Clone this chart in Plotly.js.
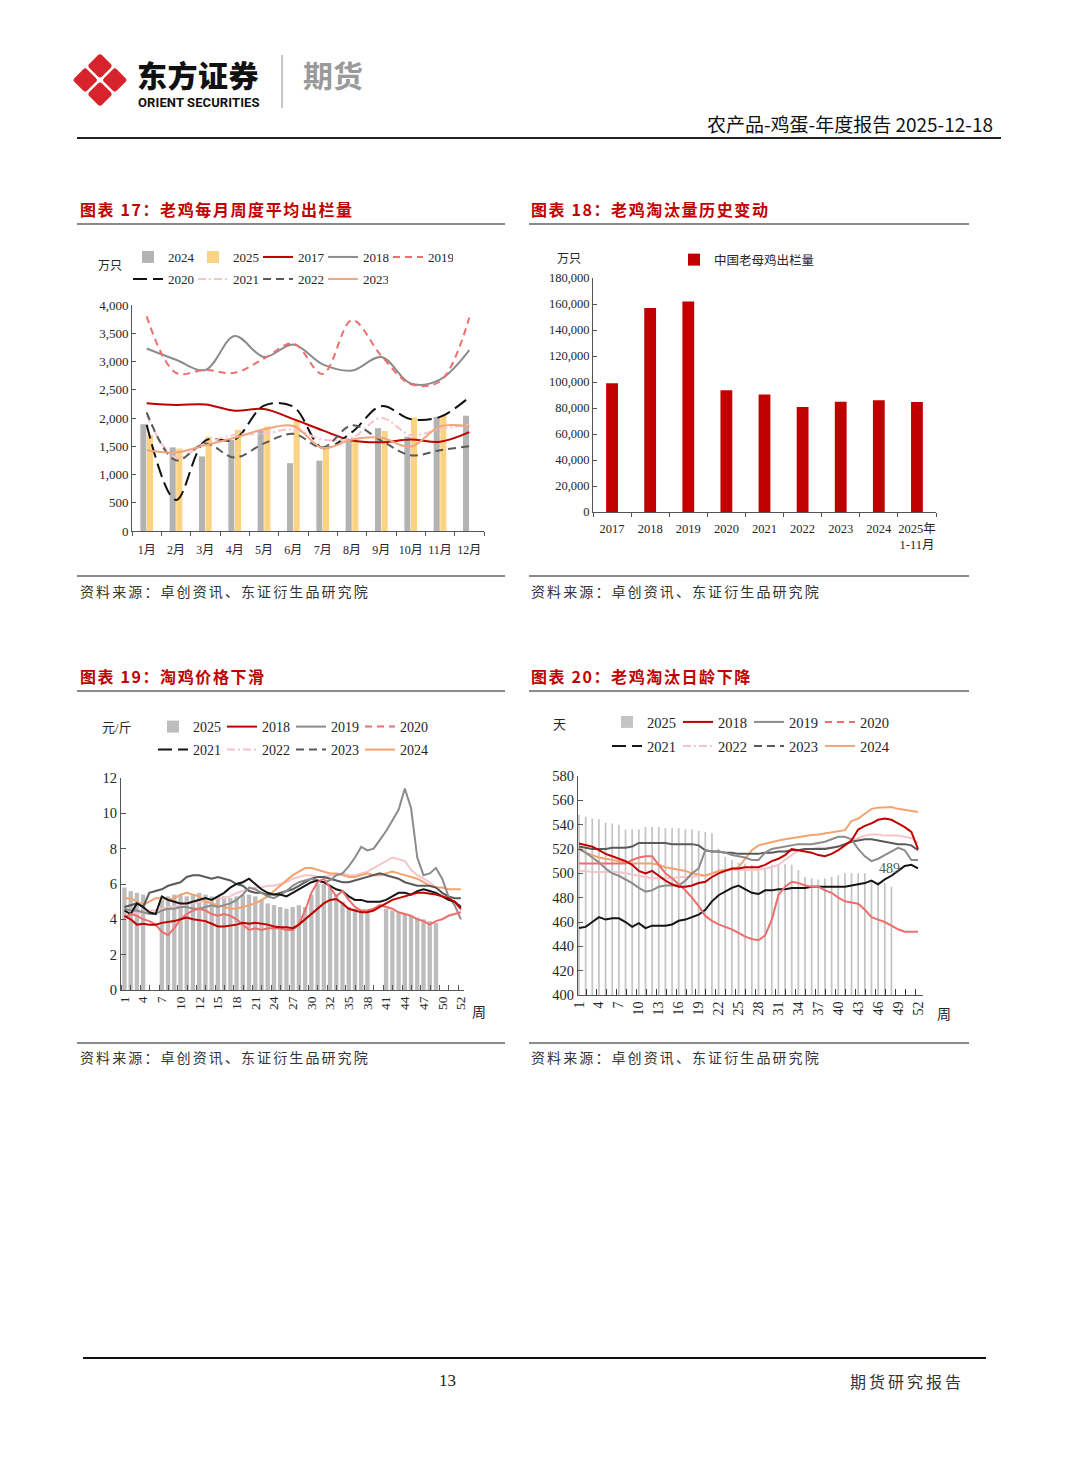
<!DOCTYPE html>
<html><head><meta charset="utf-8">
<script src="https://cdn.plot.ly/plotly-3.0.1.min.js"></script>
<style>
html,body{margin:0;padding:0;background:#fff;}
body{width:1080px;height:1466px;position:relative;overflow:hidden;font-family:'Noto Sans CJK SC',sans-serif;}
.abs{position:absolute;white-space:nowrap;}
.chart{position:absolute;}
.ttl{position:absolute;white-space:nowrap;color:#c00000;font-weight:700;font-size:16px;letter-spacing:1.6px;line-height:20px;}
.src{position:absolute;white-space:nowrap;color:#333;font-size:14px;letter-spacing:2.1px;line-height:18px;}
.hl{position:absolute;background:#8a8a8a;height:2px;}
</style></head><body>

<svg class="abs" style="left:70px;top:49px" width="60" height="62" viewBox="0 0 60 62">
  <g fill="#d7232c">
    <rect x="-9" y="-9" width="18" height="18" rx="3" transform="translate(30,16.9) rotate(45)"/>
    <rect x="-9" y="-9" width="18" height="18" rx="3" transform="translate(15.2,31) rotate(45)"/>
    <rect x="-9" y="-9" width="18" height="18" rx="3" transform="translate(44.8,31) rotate(45)"/>
    <rect x="-9" y="-9" width="18" height="18" rx="3" transform="translate(30,45.1) rotate(45)"/>
  </g>
</svg>
<div class="abs" style="left:137px;top:59px;font-size:30px;font-weight:900;line-height:30px;color:#111;letter-spacing:0.5px;">东方证券</div>
<div class="abs" style="left:138px;top:96px;font-family:Roboto,'Noto Sans',sans-serif;font-size:13px;font-weight:700;line-height:13px;color:#111;letter-spacing:0.1px;">ORIENT SECURITIES</div>
<div class="abs" style="left:281px;top:55px;width:1.5px;height:53px;background:#c8c8c8;"></div>
<div class="abs" style="left:303px;top:59px;font-size:30px;font-weight:700;line-height:30px;color:#9a9a9a;">期货</div>
<div class="abs" style="right:87px;top:112px;font-size:19px;line-height:24px;color:#111;">农产品-鸡蛋-年度报告 2025-12-18</div>
<div class="abs" style="left:77px;top:137px;width:924px;height:1.5px;background:#222;"></div>

<div class="ttl" style="left:80px;top:199px;">图表 17：老鸡每月周度平均出栏量</div>
<div class="ttl" style="left:531px;top:199px;">图表 18：老鸡淘汰量历史变动</div>
<div class="hl" style="left:77px;top:223px;width:428px;"></div>
<div class="hl" style="left:529px;top:223px;width:440px;"></div>
<div class="hl" style="left:77px;top:575px;width:428px;"></div>
<div class="hl" style="left:529px;top:575px;width:440px;"></div>
<div class="src" style="left:80px;top:582px;">资料来源：卓创资讯、东证衍生品研究院</div>
<div class="src" style="left:531px;top:582px;">资料来源：卓创资讯、东证衍生品研究院</div>

<div class="ttl" style="left:80px;top:666px;">图表 19：淘鸡价格下滑</div>
<div class="ttl" style="left:531px;top:666px;">图表 20：老鸡淘汰日龄下降</div>
<div class="hl" style="left:77px;top:690px;width:428px;"></div>
<div class="hl" style="left:529px;top:690px;width:440px;"></div>
<div class="hl" style="left:77px;top:1042px;width:428px;"></div>
<div class="hl" style="left:529px;top:1042px;width:440px;"></div>
<div class="src" style="left:80px;top:1048px;">资料来源：卓创资讯、东证衍生品研究院</div>
<div class="src" style="left:531px;top:1048px;">资料来源：卓创资讯、东证衍生品研究院</div>

<div class="abs" style="left:83px;top:1357px;width:903px;height:1.5px;background:#111;"></div>
<div class="abs" style="left:439px;top:1370px;font-family:'Liberation Serif',serif;font-size:17px;line-height:22px;color:#222;">13</div>
<div class="abs" style="left:850px;top:1370px;font-size:16px;letter-spacing:3px;line-height:22px;color:#333;">期货研究报告</div>

<div id="c17" class="chart" style="left:77px;top:235px;width:430px;height:330px;"></div>
<div id="c18" class="chart" style="left:529px;top:235px;width:440px;height:330px;"></div>
<div id="c19" class="chart" style="left:77px;top:700px;width:430px;height:330px;"></div>
<div id="c20" class="chart" style="left:529px;top:700px;width:440px;height:330px;"></div>

<script>
// ================= DATA =================
// Chart 17: monthly average weekly culled hens (万只)
const months17 = ['1月','2月','3月','4月','5月','6月','7月','8月','9月','10月','11月','12月'];
const bar17_2024 = [1890,1480,1320,1610,1780,1200,1245,1600,1820,1670,2020,2040];
const bar17_2025 = [1700,1460,1670,1790,1850,1960,1490,1610,1770,2010,2040,null];
const line17_2017 = [2260,2230,2240,2130,2160,1980,1780,1600,1570,1620,1580,1750];
const line17_2018 = [3230,3030,2850,3450,3080,3300,2950,2840,3080,2610,2680,3200];
const line17_2019 = [3800,2800,2850,2800,3050,3320,2780,3730,3100,2600,2650,3780];
const line17_2020 = [1880,550,1600,1620,2220,2200,1470,1750,2210,1980,2020,2370];
const line17_2021 = [2050,1300,1550,1700,1720,1800,1620,1650,2000,1700,1800,1880];
const line17_2022 = [2100,1250,1550,1300,1550,1720,1480,1870,1600,1340,1430,1500];
const line17_2023 = [1430,1390,1520,1650,1800,1860,1470,1620,1650,1490,1850,1850];

// Chart 18: annual culled hens (万只)
const years18 = ['2017','2018','2019','2020','2021','2022','2023','2024','2025年<br>1-11月'];
const culled18 = [99000,157000,162000,93600,90300,80800,84900,85900,84600];

// Chart 19: culled hen price (元/斤), weekly points
const weekLabels19 = ['1','4','7','10','12','15','18','21','24','27','30','32','35','38','41','44','47','50','52'];
const bar19_2025 = [5.8,5.6,5.5,5.4,null,null,5.1,5.3,5.4,5.4,5.3,5.4,5.5,5.4,5.3,5.3,5.3,5.2,5.3,5.4,5.4,5.3,5.1,4.9,4.8,4.7,4.6,4.7,4.8,4.7,5.4,6.0,6.0,5.8,5.4,5.0,4.7,4.6,4.5,4.4,null,null,4.6,4.5,4.4,4.3,4.2,4.1,4.0,3.9,3.8];
const line19_2018 = [4.2,4.0,3.7,3.75,3.7,3.7,3.8,3.85,3.9,4.0,4.1,4.0,3.95,3.9,3.75,3.6,3.6,3.65,3.7,3.8,3.75,3.8,3.75,3.7,3.6,3.55,3.55,3.5,3.7,4.0,4.3,4.6,4.9,5.1,5.15,4.9,4.6,4.5,4.4,4.4,4.5,4.7,4.9,5.1,5.2,5.3,5.4,5.5,5.5,5.45,5.4,5.3,5.2,5.0,4.6];
const line19_2019 = [4.6,4.5,4.5,4.4,4.3,4.3,4.5,4.6,4.6,4.7,4.7,4.6,4.6,4.7,4.8,4.7,4.8,4.9,5.1,5.4,5.8,5.7,5.5,5.3,5.2,5.4,5.6,5.9,6.1,6.2,6.3,6.2,6.1,6.2,6.5,6.6,7.0,7.5,8.1,7.9,8.0,8.5,9.0,9.6,10.2,11.4,10.3,7.5,6.5,6.6,6.9,6.3,5.3,4.8,4.0];
const line19_2020 = [4.1,4.3,4.2,4.0,3.9,3.7,3.3,3.1,3.5,4.0,4.3,4.5,4.6,4.5,4.3,4.2,4.3,4.2,4.0,3.7,3.4,3.5,3.4,3.5,3.5,3.5,3.4,3.4,3.7,4.5,5.5,6.1,6.3,5.8,5.3,5.6,5.1,4.7,4.5,4.5,4.6,4.8,4.7,4.6,4.4,4.3,4.2,4.0,3.9,3.7,3.9,4.0,4.2,4.3,4.4];
const line19_2021 = [4.5,4.3,4.9,4.7,4.4,4.3,5.3,5.1,5.0,4.9,4.9,5.0,5.1,5.2,5.1,5.3,5.5,5.8,6.0,6.1,6.3,6.0,5.7,5.5,5.4,5.4,5.3,5.5,5.7,5.9,6.1,6.2,6.1,5.9,5.7,5.6,5.3,5.1,5.1,5.0,5.0,5.0,5.1,5.3,5.5,5.5,5.4,5.6,5.7,5.6,5.5,5.3,5.1,5.0,4.7];
const line19_2022 = [4.5,4.4,4.3,4.4,4.5,4.5,4.6,4.7,4.7,4.8,4.9,4.9,5.0,5.0,5.1,5.2,5.2,5.3,5.5,5.6,5.7,5.8,5.8,5.9,5.9,6.0,6.1,6.3,6.4,6.5,6.5,6.4,6.4,6.5,6.5,6.6,6.5,6.5,6.6,6.7,6.9,7.1,7.3,7.5,7.4,7.3,6.8,6.5,6.3,6.1,5.8,5.5,5.2,5.0,4.5];
const line19_2023 = [4.7,4.8,4.9,4.7,5.5,5.6,5.7,5.9,6.0,6.1,6.4,6.5,6.5,6.4,6.3,6.4,6.3,6.2,6.0,5.9,5.6,5.5,5.5,5.4,5.4,5.5,5.6,5.7,5.9,6.1,6.3,6.4,6.4,6.3,6.2,6.1,6.1,6.2,6.3,6.4,6.5,6.6,6.5,6.4,6.3,6.1,6.0,5.9,5.9,5.9,5.8,5.5,5.3,5.2,5.2];
const line19_2024 = [5.2,5.2,5.0,4.8,5.0,5.2,5.2,5.1,5.2,5.4,5.5,5.4,5.3,5.0,4.9,4.8,4.7,4.6,4.6,4.7,4.8,4.9,5.1,5.3,5.6,5.9,6.2,6.5,6.7,6.9,6.9,6.8,6.7,6.6,6.6,6.5,6.4,6.4,6.5,6.6,6.5,6.5,6.6,6.7,6.6,6.5,6.4,6.3,6.1,5.9,5.8,5.8,5.7,5.7,5.7];

// Chart 20: culling age (天), weekly points
const weekLabels20 = ['1','4','7','10','13','16','19','22','25','28','31','34','37','40','43','46','49','52'];
const bar20_2025 = [548,546.5,545,544.5,541.5,541,540,536,536,536,538,538,538,537,537,537,536,536,535,534,533,520,513.5,511,509,508,507,505,504,507,507.5,507.5,507,502.5,497,496,495,496,497,498.5,500,500,500,500,493,493,492,489];
const line20_2018 = [524.5,523,522,519,516,514,512,510,507,502,500,502,498,494,491,489,489,490,492,493,497,500,502,504,504,505,505,505,507,510,512,515,520,519,518,517,515,514,516,519,523,527,536,539,541,544,545,544,541,538,534,520];
const line20_2019 = [520,517,513,509,504,500,498,495,492,488,485,486,489,490,490,490,494,500,504,519,518,518,517,515,514,513,511,511,517,520,521,522,523,524,524,524,525,526,528,530,530,528,520,514,510,512,515,518,521,519,511,511];
const line20_2020 = [508,508,508,508,508,508,508,508,511,513,514,514,507,500,496,491,486,480,473,465,461,458,456,454,451,448,446,445,449,462,482,489,493,492,490,489,489,486,484,480,477,476,475,470,464,462,460,457,454,452,452,452];
const line20_2021 = [455,456,460,464,462,463,463,460,456,459,455,457,457,457,458,461,462,464,466,470,477,482,485,488,490,487,484,483,486,486,487,487,488,488,488,489,489,489,489,489,489,490,491,492,494,491,495,498,502,506,507,504];
const line20_2022 = [502,502,501,501,501,501,501,500,499,498,497,496,496,496,496,497,497,497,498,498,500,501,502,503,503,503,503,503,504,505,507,511,515,519,520,520,521,521,521,522,524,527,529,531,532,532,531,531,531,530,529,525];
const line20_2023 = [522,521,520,520,520,521,521,521,522,525,525,525,525,525,524,524,524,524,523,519,518,518,517,517,516,516,516,516,517,517,518,518,519,519,520,520,520,520,521,522,524,526,527,528,528,527,526,525,524,524,523,519];
const line20_2024 = [521,517,515,513,512,511,510,509,508,508,508,508,507,505,504,503,502,500,499,498,500,502,503,503,505,512,519,523,524.5,525.5,527,528,529,530,531,531.5,532,533,533.5,534.5,535.5,543,545,549,553,554,554.5,554.5,553,552,551,550.5];

// ================= HELPERS =================
const SERIF = "'Liberation Serif','Noto Sans CJK SC',serif";
const AX = '#555555';
const TXT = '#262626';
const CFG = {staticPlot:true, displayModeBar:false};
const idx = n => Array.from({length:n}, (_, i) => i);

function ann(g, px, py, text, size, extra) {
  return Object.assign({xref:'paper', yref:'paper', x:(px - g.l) / g.pw, y:1 - (py - g.t) / g.ph,
    text:text, showarrow:false, xanchor:'center', yanchor:'middle',
    font:{family:SERIF, size:size, color:TXT}}, extra || {});
}
function geo(w, h, m) { return {w:w, h:h, l:m.l, r:m.r, t:m.t, b:m.b, pw:w - m.l - m.r, ph:h - m.t - m.b}; }
function leg(g, x, yc, ew, size) {
  return {orientation:'h', xref:'container', yref:'container', x:x / g.w, y:1 - yc / g.h,
    xanchor:'left', yanchor:'middle', entrywidth:ew, entrywidthmode:'pixels', itemwidth:30,
    font:{family:SERIF, size:size, color:TXT}, bgcolor:'rgba(0,0,0,0)', traceorder:'normal',
    tracegroupgap:0};
}
function baseLayout(g) {
  return {width:g.w, height:g.h, margin:{l:g.l, r:g.r, t:g.t, b:g.b, pad:0},
    paper_bgcolor:'rgba(0,0,0,0)', plot_bgcolor:'rgba(0,0,0,0)', showlegend:true,
    font:{family:SERIF, color:TXT}};
}

// ================= CHART 17 =================
(function(){
  const g = geo(430, 330, {l:55, r:23, t:70, b:34});
  const sl = (name, y, color, dash, legend) => ({type:'scatter', mode:'lines', name:name, x:months17, y:y,
    line:{color:color, width:2, dash:dash, shape:'spline', smoothing:1}, legend:legend});
  const traces = [
    {type:'bar', name:'2024', x:months17, y:bar17_2024, marker:{color:'#b3b3b3'}, legend:'legend'},
    {type:'bar', name:'2025', x:months17, y:bar17_2025, marker:{color:'#fcd283'}, legend:'legend'},
    sl('2017', line17_2017, '#c00000', 'solid', 'legend'),
    sl('2018', line17_2018, '#8c8c8c', 'solid', 'legend'),
    sl('2019', line17_2019, '#ee6e6e', '7px,5px', 'legend'),
    sl('2020', line17_2020, '#111111', '14px,6px', 'legend2'),
    sl('2021', line17_2021, '#f7c4cc', '8px,3px,2px,3px', 'legend2'),
    sl('2022', line17_2022, '#595959', '8px,5px', 'legend2'),
    sl('2023', line17_2023, '#f4a47c', 'solid', 'legend2')
  ];
  const L = baseLayout(g);
  Object.assign(L, {
    barmode:'group', bargap:0.55, bargroupgap:0.08,
    xaxis:{type:'category', tickson:'boundaries', ticks:'outside', ticklen:4, tickcolor:AX, showline:true,
      linecolor:AX, linewidth:1, showgrid:false, zeroline:false, tickangle:0, ticklabelstandoff:8,
      tickfont:{family:SERIF, size:12, color:TXT}},
    yaxis:{range:[0,4000], dtick:500, tickformat:',', ticks:'inside', ticklen:4, tickcolor:AX, showline:true,
      linecolor:AX, linewidth:1, showgrid:false, zeroline:false, tickfont:{family:SERIF, size:13, color:TXT}},
    legend:leg(g, 51, 22, 20, 13),
    legend2:leg(g, 51, 44, 20, 13),
    annotations:[ann(g, 33, 31, '万只', 12)]
  });
  Plotly.newPlot('c17', traces, L, CFG);
})();

// ================= CHART 18 =================
(function(){
  const g = geo(440, 330, {l:64, r:33, t:43, b:53});
  const traces = [{type:'bar', name:'中国老母鸡出栏量', x:years18, y:culled18, marker:{color:'#c00000'}}];
  const L = baseLayout(g);
  Object.assign(L, {
    bargap:0.69,
    xaxis:{type:'category', tickson:'boundaries', ticks:'outside', ticklen:4, tickcolor:AX, showline:true,
      linecolor:AX, linewidth:1, showgrid:false, tickangle:0, ticklabelstandoff:5,
      tickfont:{family:SERIF, size:12.5, color:TXT}},
    yaxis:{range:[0,180000], dtick:20000, tickformat:',', ticks:'inside', ticklen:4, tickcolor:AX, showline:true,
      linecolor:AX, linewidth:1, showgrid:false, zeroline:false, tickfont:{family:SERIF, size:12.5, color:TXT}},
    legend:leg(g, 145, 25, 0, 12.5),
    annotations:[ann(g, 40, 24, '万只', 12)]
  });
  Plotly.newPlot('c18', traces, L, CFG);
})();

// ================= CHART 19 =================
(function(){
  const g = geo(430, 330, {l:44, r:43, t:78, b:40});
  const n = line19_2018.length;
  const xs = idx(n);
  const ln = (name, y, color, rank, show) => ({type:'scatter', mode:'lines', name:name, x:xs, y:y,
    line:{color:color, width:2}, showlegend:show, legendrank:rank, legend: rank < 5 ? 'legend' : 'legend2'});
  const proxy = (name, color, dash, rank) => ({type:'scatter', mode:'lines', name:name, x:[null], y:[null],
    line:{color:color, width:2, dash:dash}, legendrank:rank, legend: rank < 5 ? 'legend' : 'legend2', hoverinfo:'skip'});
  const traces = [
    {type:'bar', name:'2025', x:idx(bar19_2025.length), y:bar19_2025, marker:{color:'#bdbdbd'}, legendrank:1, legend:'legend'},
    ln('2022', line19_2022, '#f7c4cc', 6, false),
    ln('2024', line19_2024, '#f5a36e', 8, true),
    ln('2023', line19_2023, '#5a5a5a', 7, false),
    ln('2019', line19_2019, '#8c8c8c', 3, true),
    ln('2021', line19_2021, '#151515', 5, false),
    ln('2020', line19_2020, '#ee6e6e', 4, false),
    ln('2018', line19_2018, '#c00000', 2, true),
    proxy('2020', '#ee6e6e', '7px,5px', 4),
    proxy('2021', '#151515', '14px,6px', 5),
    proxy('2022', '#f7c4cc', '8px,3px,2px,3px', 6),
    proxy('2023', '#5a5a5a', '8px,5px', 7)
  ];
  const L = baseLayout(g);
  Object.assign(L, {
    bargap:0.3,
    xaxis:{range:[-0.55, 54.5], tickmode:'array', tickvals:weekLabels19.map((_, k) => 3 * k), ticktext:weekLabels19,
      tickangle:-90, ticks:'', showline:true, linecolor:AX, linewidth:1, showgrid:false, zeroline:false,
      tickfont:{family:SERIF, size:13.5, color:TXT},
      minor:{tickmode:'linear', tick0:-0.45, dtick:1.5, ticks:'inside', ticklen:5, tickcolor:AX, showgrid:false}},
    yaxis:{range:[0,12], dtick:2, ticks:'inside', ticklen:5, tickcolor:AX, showline:true, linecolor:AX, linewidth:1,
      showgrid:false, zeroline:false, tickfont:{family:SERIF, size:14.5, color:TXT}},
    legend:leg(g, 76, 27, 24, 14),
    legend2:leg(g, 76, 50, 24, 14),
    annotations:[ann(g, 40, 28, '元/斤', 13), ann(g, 402, 312, '周', 14)]
  });
  Plotly.newPlot('c19', traces, L, CFG);
})();

// ================= CHART 20 =================
(function(){
  const g = geo(440, 330, {l:49, r:46, t:76, b:35});
  const n = line20_2018.length;
  const xs = idx(n);
  const ln = (name, y, color, rank, show) => ({type:'scatter', mode:'lines', name:name, x:xs, y:y,
    line:{color:color, width:2}, showlegend:show, legendrank:rank, legend: rank < 5 ? 'legend' : 'legend2'});
  const proxy = (name, color, dash, rank) => ({type:'scatter', mode:'lines', name:name, x:[null], y:[null],
    line:{color:color, width:2, dash:dash}, legendrank:rank, legend: rank < 5 ? 'legend' : 'legend2', hoverinfo:'skip'});
  const barX = idx(bar20_2025.length);
  const traces = [
    {type:'bar', name:'2025', x:barX, y:bar20_2025, marker:{color:'#c4c4c4'}, legendrank:1, legend:'legend'},
    ln('2022', line20_2022, '#f7c4cc', 6, false),
    ln('2024', line20_2024, '#f5a36e', 8, true),
    ln('2023', line20_2023, '#5a5a5a', 7, false),
    ln('2019', line20_2019, '#8c8c8c', 3, true),
    ln('2021', line20_2021, '#151515', 5, false),
    ln('2020', line20_2020, '#ee6e6e', 4, false),
    ln('2018', line20_2018, '#c00000', 2, true),
    proxy('2020', '#ee6e6e', '7px,5px', 4),
    proxy('2021', '#151515', '14px,6px', 5),
    proxy('2022', '#f7c4cc', '8px,3px,2px,3px', 6),
    proxy('2023', '#5a5a5a', '8px,5px', 7)
  ];
  const last = bar20_2025.length - 1;
  const L = baseLayout(g);
  Object.assign(L, {
    bargap:0.74,
    xaxis:{range:[-0.15, 51.75], tickmode:'array', tickvals:weekLabels20.map((_, k) => 3 * k), ticktext:weekLabels20,
      tickangle:-90, ticks:'', showline:true, linecolor:AX, linewidth:1, showgrid:false, zeroline:false,
      tickfont:{family:SERIF, size:14, color:TXT},
      minor:{tickmode:'linear', tick0:-0.4, dtick:1.5, ticks:'inside', ticklen:6, tickcolor:'#333', showgrid:false}},
    yaxis:{range:[400,580], dtick:20, ticks:'inside', ticklen:5, tickcolor:AX, showline:true, linecolor:AX, linewidth:1,
      showgrid:false, zeroline:false, tickfont:{family:SERIF, size:14.5, color:TXT}},
    legend:leg(g, 78, 22, 26, 14.5),
    legend2:leg(g, 78, 46, 26, 14.5),
    annotations:[
      ann(g, 30, 24, '天', 13),
      ann(g, 415, 314, '周', 14),
      {x:barX[last], y:bar20_2025[last], xref:'x', yref:'y', text:String(bar20_2025[last]), showarrow:false,
       yshift:18, xshift:-2, font:{family:SERIF, size:14, color:'#555'}}
    ]
  });
  Plotly.newPlot('c20', traces, L, CFG);
})();
</script>
</body></html>
